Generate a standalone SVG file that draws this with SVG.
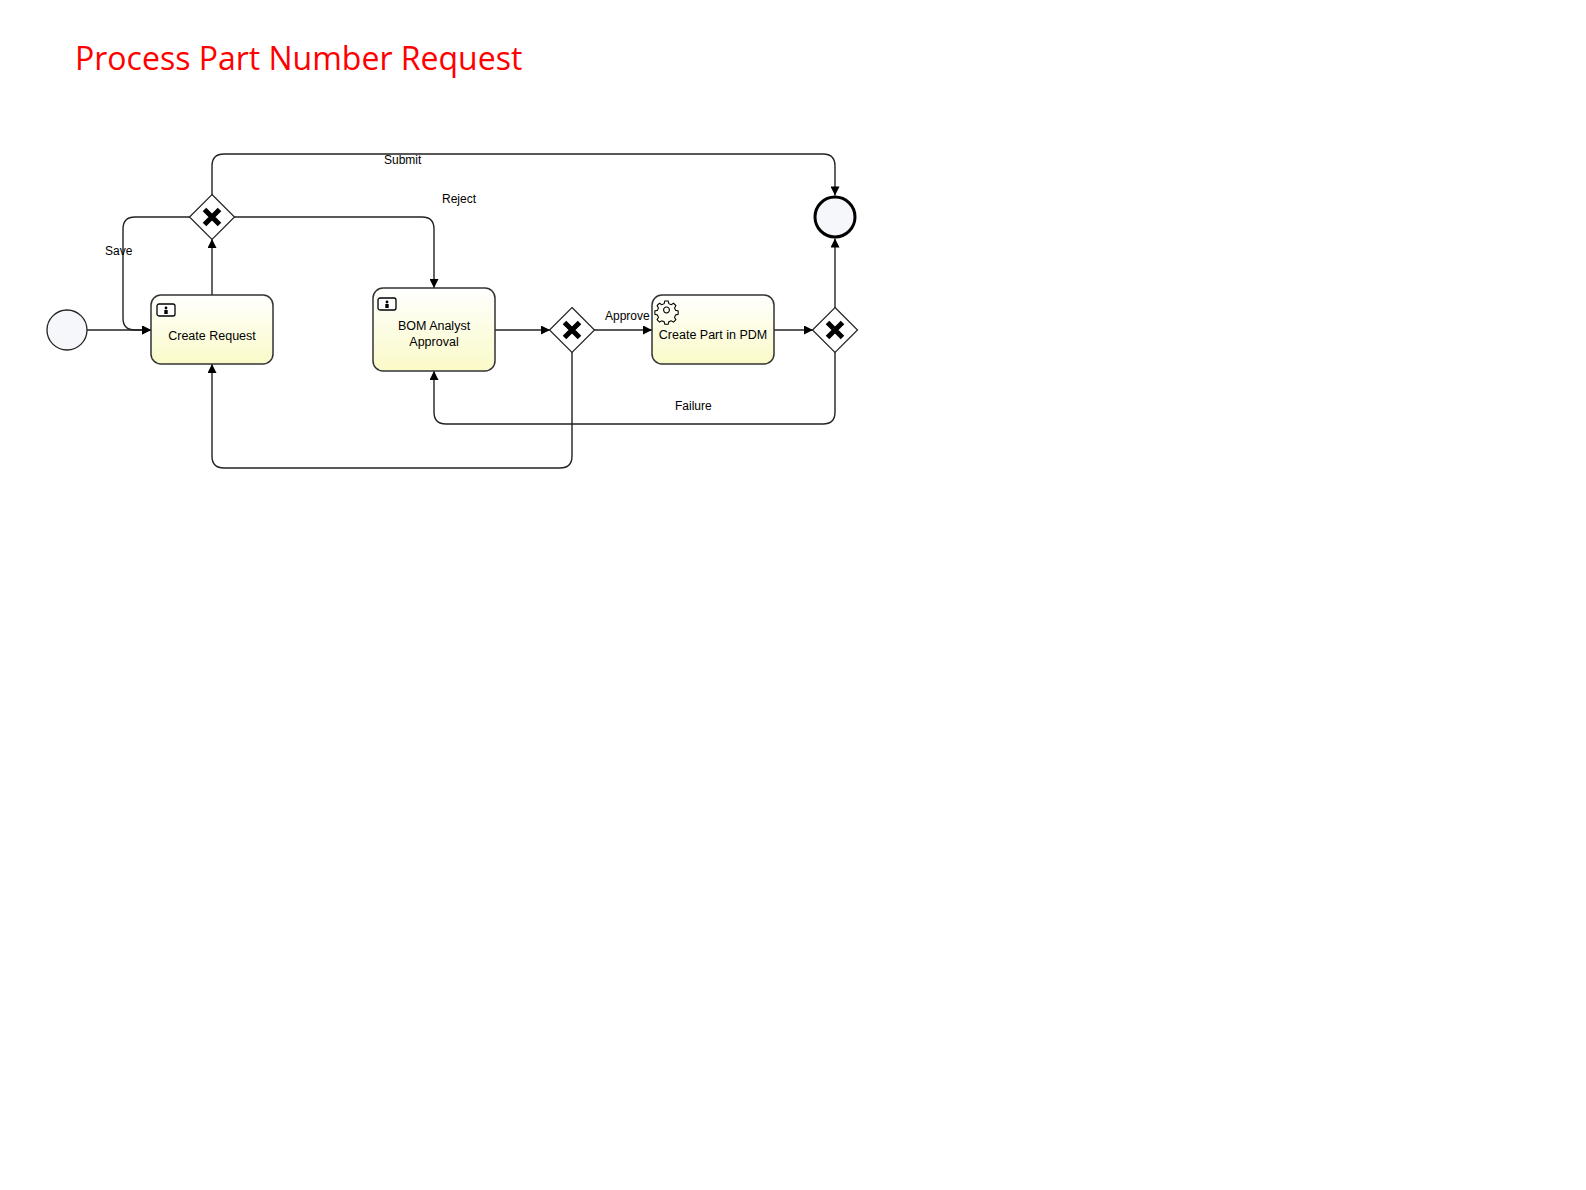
<svg xmlns="http://www.w3.org/2000/svg" width="1586" height="1190" viewBox="0 0 1586 1190">
<style>
.title{font-family:"Open Sans","Noto Sans",sans-serif;font-size:32px;fill:#ff0000}
.lbl{font-family:"Liberation Sans",Arial,sans-serif;font-size:12px;fill:#000}
.tl{font-family:"Liberation Sans",Arial,sans-serif;font-size:12.5px;fill:#000;text-anchor:middle}
.task{fill:url(#tg);stroke:#333;stroke-width:1.5}
.gw{fill:#fff;stroke:#222;stroke-width:1.2}
.x{stroke:#000;stroke-width:5;stroke-linecap:butt}
.edge{fill:none;stroke:#222;stroke-width:1.4;marker-end:url(#arr)}
</style>
<defs>
<linearGradient id="tg" x1="0" y1="0" x2="0" y2="1">
<stop offset="0" stop-color="#ffffff"/>
<stop offset="1" stop-color="#fafac8"/>
</linearGradient>
<marker id="arr" viewBox="0 0 10 10" refX="10" refY="5" markerWidth="10" markerHeight="9" markerUnits="userSpaceOnUse" orient="auto">
<path d="M0,0 L10,5 L0,10 Z" fill="#000"/>
</marker>
<g id="usericon">
<rect x="0" y="0" width="18" height="12" rx="2" fill="#fff" stroke="#000" stroke-width="1.3"/>
<circle cx="9" cy="4" r="1.4" fill="#000"/>
<path d="M7.3,6 h3.4 v4 h-3.4 Z" fill="#000"/>
</g>
<g id="xmark">
<path class="x" d="M-7.5,-7.5 L7.5,7.5 M7.5,-7.5 L-7.5,7.5"/>
</g>
</defs>

<text class="title" x="75" y="70">Process Part Number Request</text>

<g id="connectors">
<path id="e-start-cr" class="edge" d="M87,330 H151"/>
<path id="e-cr-g1" class="edge" d="M212,295 V239"/>
<path id="e-g1-save" class="edge" d="M190,217 H135 Q123,217 123,229 V318 Q123,330 135,330 H151"/>
<path id="e-g1-submit" class="edge" d="M212,195 V166 Q212,154 224,154 H823 Q835,154 835,166 V195.5"/>
<path id="e-g1-reject" class="edge" d="M234,217 H422 Q434,217 434,229 V288"/>
<path id="e-bom-g2" class="edge" d="M495,330 H550"/>
<path id="e-g2-approve" class="edge" d="M594,330 H652"/>
<path id="e-g2-back" class="edge" d="M572,352 V456 Q572,468 560,468 H224 Q212,468 212,456 V364"/>
<path id="e-cp-g3" class="edge" d="M774,330 H813"/>
<path id="e-g3-end" class="edge" d="M835,308 V238.5"/>
<path id="e-g3-fail" class="edge" d="M835,352 V412 Q835,424 823,424 H446 Q434,424 434,412 V371"/>
<text class="lbl" x="105" y="255">Save</text>
<text class="lbl" x="384" y="164">Submit</text>
<text class="lbl" x="442" y="203">Reject</text>
<text class="lbl" x="605" y="320">Approve</text>
<text class="lbl" x="675" y="410">Failure</text>
</g>

<g id="start">
<circle cx="67" cy="330" r="20" fill="#f5f7fa" stroke="#222" stroke-width="1.3"/>
</g>

<g id="createRequest">
<rect class="task" x="151" y="295" width="122" height="69" rx="10"/>
<use href="#usericon" x="157" y="304"/>
<text class="tl" x="212" y="340">Create Request</text>
</g>

<g id="gateway1">
<path class="gw" d="M212,194.5 L234.5,217 L212,239.5 L189.5,217 Z"/>
<use href="#xmark" x="212" y="217"/>
</g>

<g id="bomApproval">
<rect class="task" x="373" y="288" width="122" height="83" rx="10"/>
<use href="#usericon" x="378" y="298"/>
<text class="tl" x="434" y="330">BOM Analyst</text>
<text class="tl" x="434" y="346">Approval</text>
</g>

<g id="gateway2">
<path class="gw" d="M572,307.5 L594.5,330 L572,352.5 L549.5,330 Z"/>
<use href="#xmark" x="572" y="330"/>
</g>

<g id="createPart">
<rect class="task" x="652" y="295" width="122" height="69" rx="10"/>
<g transform="translate(666.5,310) scale(1.12)" fill="none" stroke="#000" stroke-width="0.95">
<path d="M-1.5,-8 h3 l0.6,2.3 l2.1,0.9 l2.1,-1.2 l2.1,2.1 l-1.2,2.1 l0.9,2.1 l2.3,0.6 v3 l-2.3,0.6 l-0.9,2.1 l1.2,2.1 l-2.1,2.1 l-2.1,-1.2 l-2.1,0.9 l-0.6,2.3 h-3 l-0.6,-2.3 l-2.1,-0.9 l-2.1,1.2 l-2.1,-2.1 l1.2,-2.1 l-0.9,-2.1 l-2.3,-0.6 v-3 l2.3,-0.6 l0.9,-2.1 l-1.2,-2.1 l2.1,-2.1 l2.1,1.2 l2.1,-0.9 Z"/>
<circle cx="0" cy="0" r="2.6"/>
</g>
<text class="tl" x="713" y="339">Create Part in PDM</text>
</g>

<g id="gateway3">
<path class="gw" d="M835,307.5 L857.5,330 L835,352.5 L812.5,330 Z"/>
<use href="#xmark" x="835" y="330"/>
</g>

<g id="end">
<circle cx="835" cy="217" r="20" fill="#f5f7fa" stroke="#000" stroke-width="3"/>
</g>
</svg>
